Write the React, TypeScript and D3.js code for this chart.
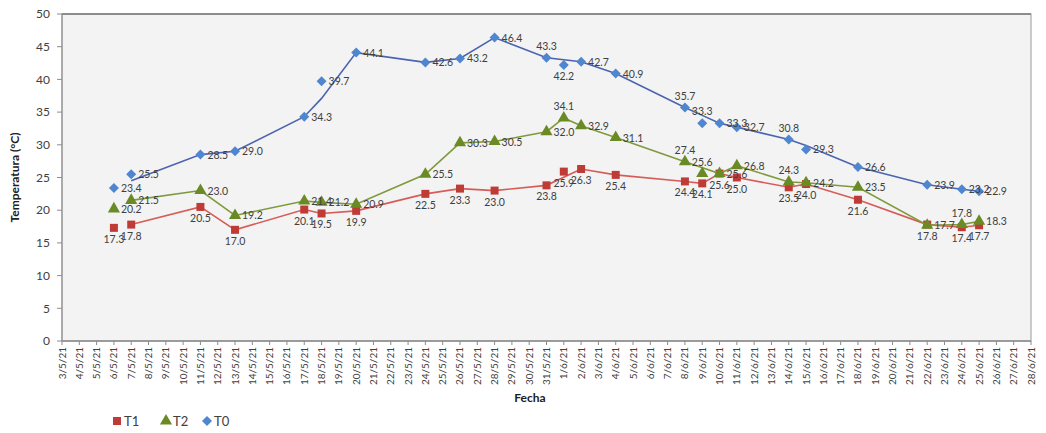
import React from 'react';
import * as d3 from 'd3';

// Sampling dates (day/month 2021)
const dates = [
  '2021-05-06', '2021-05-07', '2021-05-11', '2021-05-13', '2021-05-17', '2021-05-18',
  '2021-05-20', '2021-05-24', '2021-05-26', '2021-05-28', '2021-05-31', '2021-06-01',
  '2021-06-02', '2021-06-04', '2021-06-08', '2021-06-09', '2021-06-10', '2021-06-11',
  '2021-06-14', '2021-06-15', '2021-06-18', '2021-06-22', '2021-06-24', '2021-06-25',
];

// Marker values
const t1 = [17.3, 17.8, 20.5, 17.0, 20.1, 19.5, 19.9, 22.5, 23.3, 23.0, 23.8, 25.9,
  26.3, 25.4, 24.4, 24.1, 25.6, 25.0, 23.5, 24.0, 21.6, 17.8, 17.4, 17.7];
const t2 = [20.2, 21.5, 23.0, 19.2, 21.4, 21.2, 20.9, 25.5, 30.3, 30.5, 32.0, 34.1,
  32.9, 31.1, 27.4, 25.6, 25.6, 26.8, 24.3, 24.2, 23.5, 17.7, 17.8, 18.3];
const t0 = [23.4, 25.5, 28.5, 29.0, 34.3, 39.7, 44.1, 42.6, 43.2, 46.4, 43.3, 42.2,
  42.7, 40.9, 35.7, 33.3, 33.3, 32.7, 30.8, 29.3, 26.6, 23.9, 23.2, 22.9];

// Connecting lines as drawn in the figure (null = point not on the line)
const t1Line = [null, 17.8, 20.5, 17.0, 20.1, 19.5, 19.9, 22.5, 23.3, 23.0, 23.8, null,
  26.3, 25.4, 24.4, 24.1, 25.6, 25.0, 23.5, 24.0, 21.6, 17.8, 17.4, 17.7];
const t2Line = [null, 21.5, 23.0, 19.2, 21.4, 21.2, 20.9, 25.5, 30.3, 30.5, 32.0, 34.1,
  32.9, 31.1, 27.4, null, 25.6, 26.8, 24.3, 24.2, 23.5, 17.7, 17.8, 18.3];
const t0Line = [null, 24.5, 28.5, 29.0, 34.3, 37.1, 44.1, 42.6, 43.2, 46.4, 43.3, null,
  42.7, 40.9, 35.7, 34.5, 33.3, 32.7, 30.8, 29.9, 26.6, 23.9, 23.2, 22.9];

// Data label side: r = right, b = below, t = above
const t1Pos = 'bbbbbbbbbbbbbbbbbbbbbbbb'.split('');
const t2Pos = 'rrrrrrrrrrrtrrttrrtrrrtr'.split('');
const t0Pos = 'rrrrrrrrrrtbrrttrrtrrrrr'.split('');

const yTicks = [0, 5, 10, 15, 20, 25, 30, 35, 40, 45, 50];
const xStart = '2021-05-03';
const xEnd = '2021-06-28';

const W = 1046;
const H = 433;
const FONT = 'Lato, "Open Sans", sans-serif';

const parse = (s: string) => new Date(s + 'T00:00:00Z');

const App: React.FC = () => {
  const x = d3.scaleUtc().domain([parse(xStart), parse(xEnd)]).range([62, 1031]);
  const y = d3.scaleLinear().domain([0, 50]).range([341, 14]);
  const days = d3.utcDay.range(parse(xStart), d3.utcDay.offset(parse(xEnd), 1));
  const fmt = (d: Date) => `${d.getUTCDate()}/${d.getUTCMonth() + 1}/21`;

  const line = d3
    .line<[Date, number]>()
    .x((d) => x(d[0]))
    .y((d) => y(d[1]));

  const linePts = (vals: (number | null)[]) =>
    vals
      .map((v, i) => [parse(dates[i]), v] as [Date, number | null])
      .filter((p) => p[1] != null) as [Date, number][];

  const series = [
    { key: 'T1', vals: t1, lineVals: t1Line, pos: t1Pos, line: '#d65c58', fill: '#be3b36', shape: 'square' },
    { key: 'T2', vals: t2, lineVals: t2Line, pos: t2Pos, line: '#7f9a3c', fill: '#6a8a26', shape: 'triangle' },
    { key: 'T0', vals: t0, lineVals: t0Line, pos: t0Pos, line: '#4a64b0', fill: '#4f86cf', shape: 'diamond' },
  ];

  const symbol = (shape: string) => {
    if (shape === 'square') return d3.symbol(d3.symbolSquare, 64)()!;
    if (shape === 'triangle') return d3.symbol(d3.symbolTriangle, 64)()!;
    return d3.symbol(d3.symbolSquare, 50)()!;
  };
  const rot = (shape: string) => (shape === 'diamond' ? ' rotate(45)' : '');

  const labelProps = (pos: string, cx: number, cy: number) => {
    if (pos === 'b') return { x: cx, y: cy + 15, textAnchor: 'middle' as const };
    if (pos === 't') return { x: cx, y: cy - 8, textAnchor: 'middle' as const };
    return { x: cx + 7, y: cy + 4, textAnchor: 'start' as const };
  };

  const legend = [
    { key: 'T1', x: 117, shape: 'square', fill: '#be3b36' },
    { key: 'T2', x: 166, shape: 'triangle', fill: '#6a8a26' },
    { key: 'T0', x: 207, shape: 'diamond', fill: '#4f86cf' },
  ];

  return (
    <div style={{ position: 'absolute', left: 0, top: 0 }}>
      <svg width={W} height={H} style={{ display: 'block', background: '#fff' }} fontFamily={FONT}>
        {/* plot area */}
        <rect x={62} y={14} width={1031 - 62} height={341 - 14} fill="#f3f3f3" stroke="#9a9a9a" strokeWidth={1} />
        <line x1={62} x2={1031} y1={14} y2={14} stroke="#8c8c8c" strokeWidth={2} />

        {/* y axis */}
        <line x1={62} x2={62} y1={14} y2={341} stroke="#8c8c8c" />
        {yTicks.map((t) => (
          <g key={t}>
            <line x1={57} x2={62} y1={y(t)} y2={y(t)} stroke="#8c8c8c" />
            <text x={50} y={y(t)} dy="0.35em" textAnchor="end" fontSize={12} fill="#404040">
              {t}
            </text>
          </g>
        ))}
        <text
          transform={`translate(19,${(14 + 341) / 2}) rotate(-90)`}
          textAnchor="middle"
          fontSize={12}
          fontWeight="bold"
          fill="#202020"
        >
          Temperatura (°C)
        </text>

        {/* x axis */}
        <line x1={62} x2={1031} y1={341} y2={341} stroke="#8c8c8c" strokeWidth={1.5} />
        {days.map((d) => (
          <g key={d.toISOString()}>
            <line x1={x(d)} x2={x(d)} y1={341} y2={345} stroke="#8c8c8c" />
            <text
              transform={`translate(${x(d)},347) rotate(-90)`}
              textAnchor="end"
              dy="0.35em"
              fontSize={10}
              fill="#404040"
            >
              {fmt(d)}
            </text>
          </g>
        ))}
        <text x={530} y={402} textAnchor="middle" fontSize={12} fontWeight="bold" fill="#202020">
          Fecha
        </text>

        {/* series */}
        {series.map((s) => (
          <g key={s.key}>
            <path d={line(linePts(s.lineVals)) ?? ''} fill="none" stroke={s.line} strokeWidth={1.6} />
            {s.vals.map((v, i) => (
              <path
                key={i}
                d={symbol(s.shape)}
                transform={`translate(${x(parse(dates[i]))},${y(v)})${rot(s.shape)}`}
                fill={s.fill}
              />
            ))}
          </g>
        ))}
        {series.map((s) => (
          <g key={s.key + '-labels'}>
            {s.vals.map((v, i) => {
              const p = labelProps(s.pos[i], x(parse(dates[i])), y(v));
              return (
                <text key={i} x={p.x} y={p.y} textAnchor={p.textAnchor} fontSize={10.5} fill="#404040">
                  {v.toFixed(1)}
                </text>
              );
            })}
          </g>
        ))}

        {/* legend */}
        {legend.map((l) => (
          <g key={l.key}>
            <path d={symbol(l.shape)} transform={`translate(${l.x},421)${rot(l.shape)}`} fill={l.fill} />
            <text x={l.x + 7} y={421} dy="0.35em" fontSize={13} fill="#404040">
              {l.key}
            </text>
          </g>
        ))}
      </svg>
    </div>
  );
};

export default App;
